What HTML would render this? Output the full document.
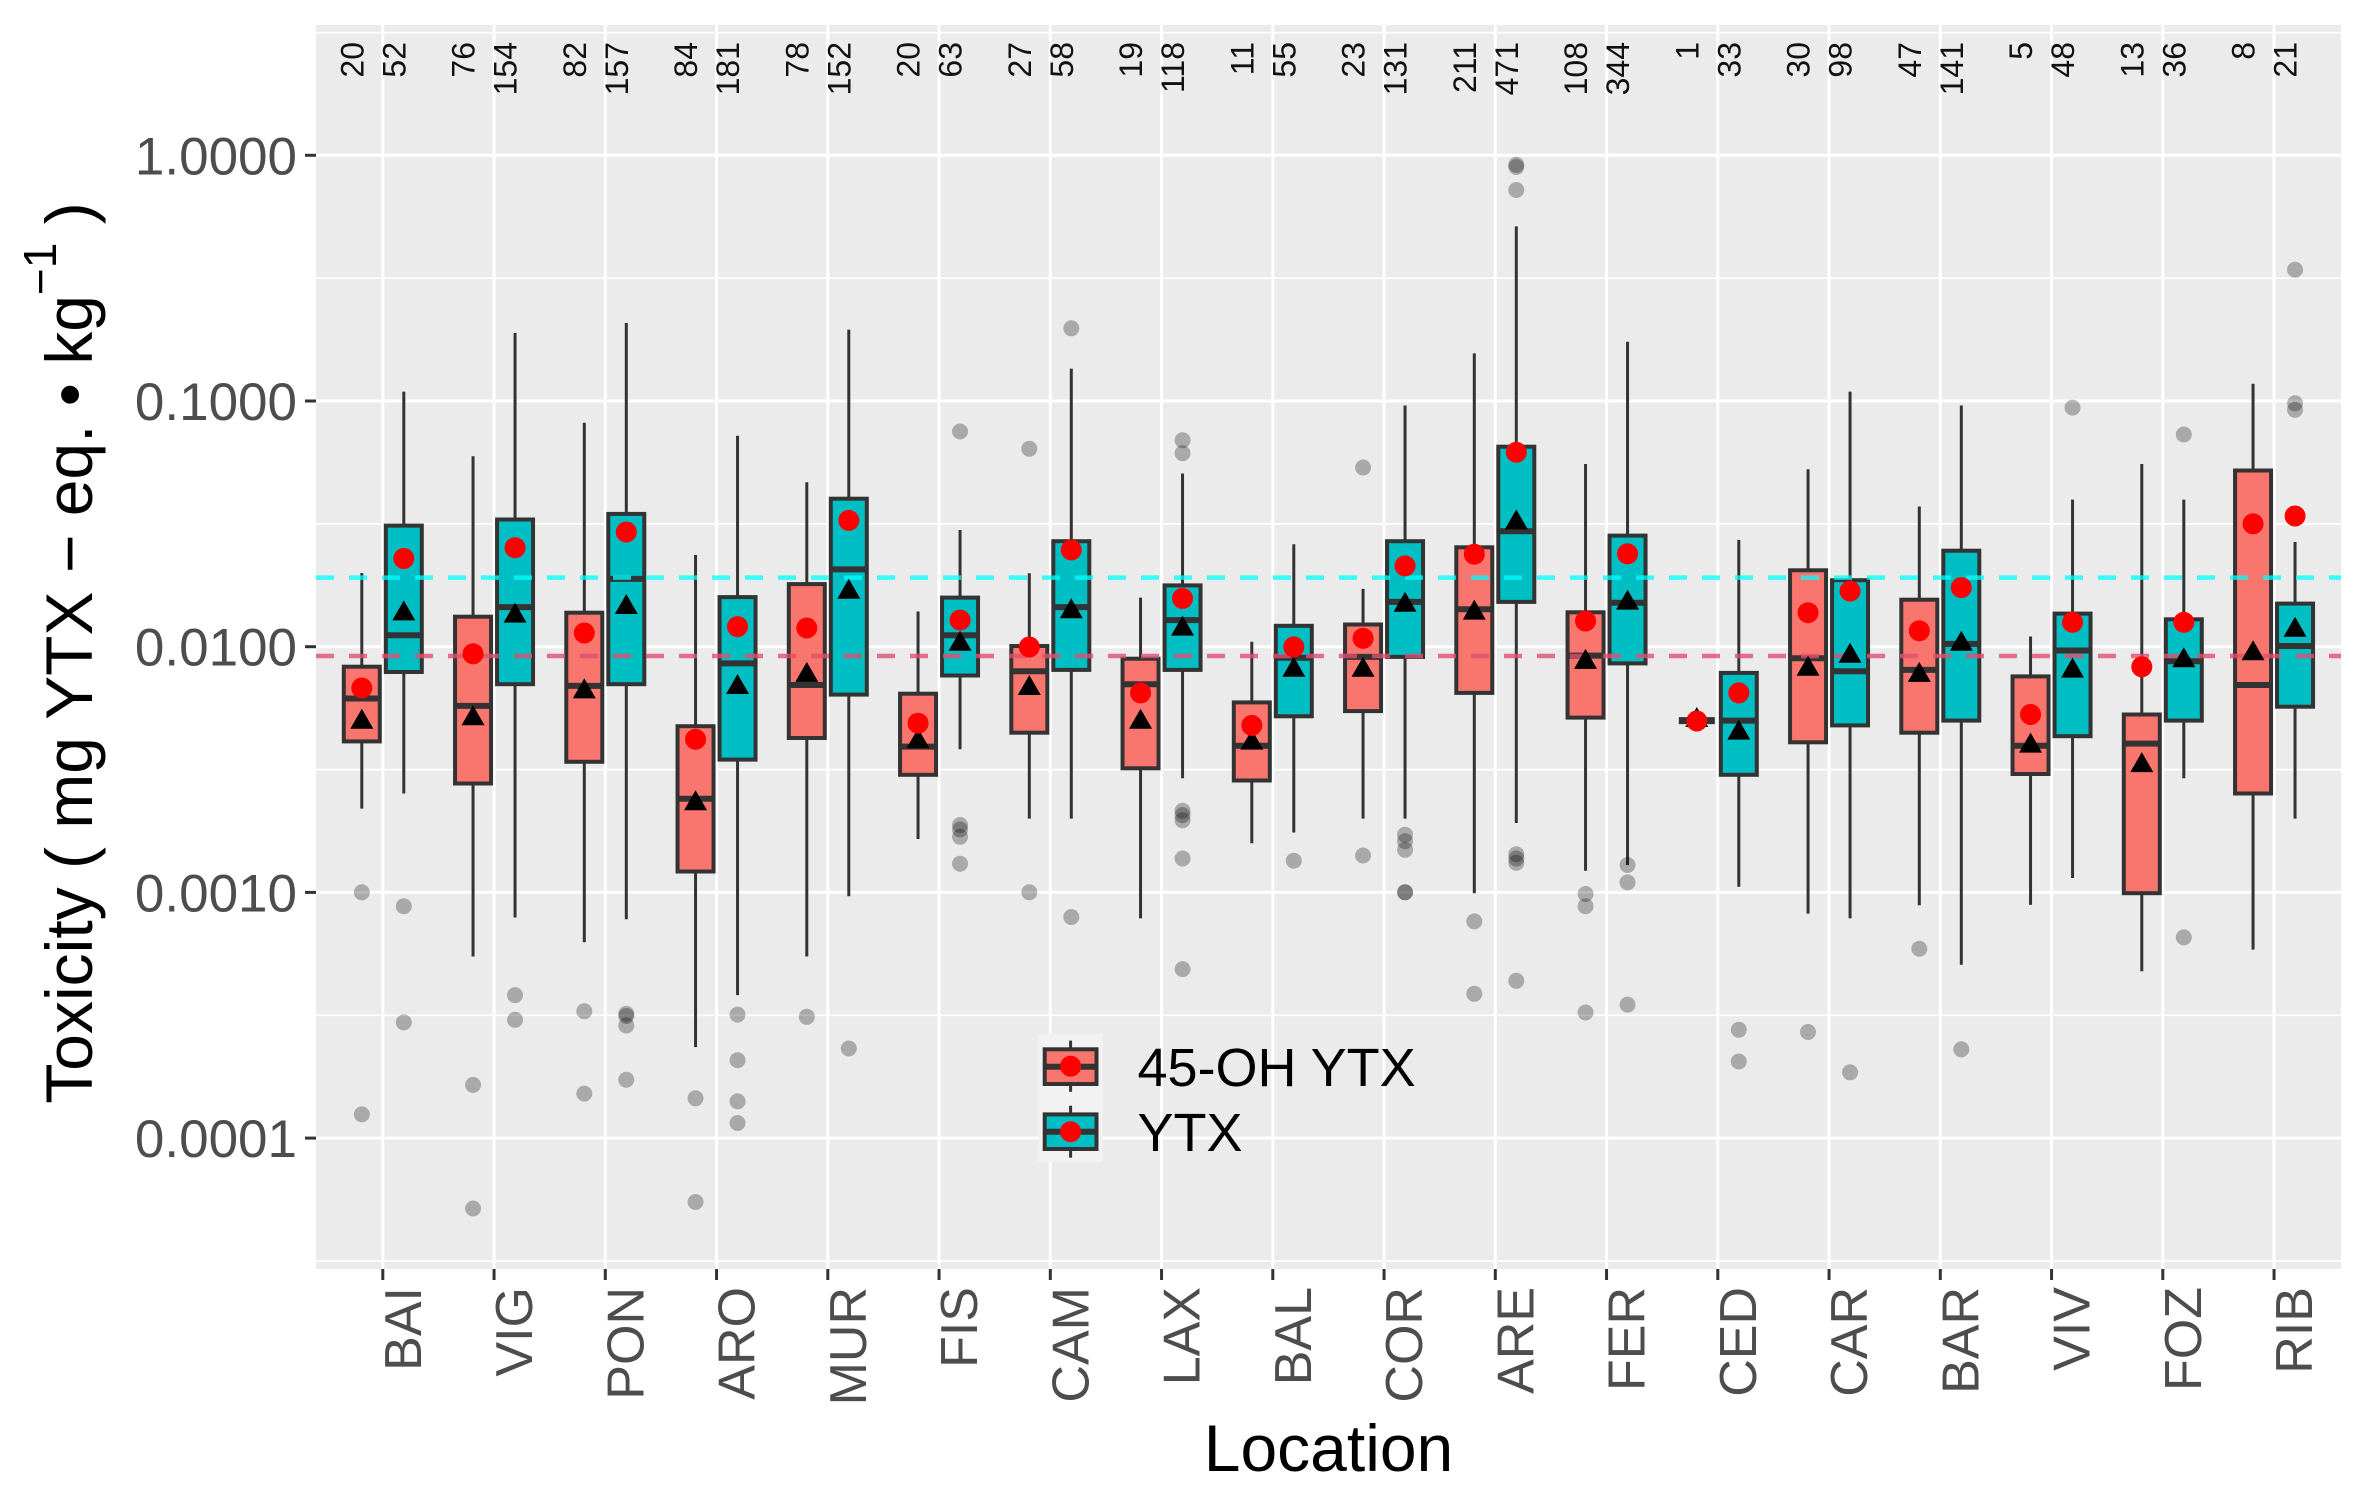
<!DOCTYPE html>
<html><head><meta charset="utf-8"><style>
html,body{margin:0;padding:0;background:#fff;overflow:hidden}
svg{display:block}
.w{stroke:#333;stroke-width:3}
.s{fill:#F8766D;stroke:#333;stroke-width:4}
.t{fill:#00BFC4;stroke:#333;stroke-width:4}
.m{stroke:#333;stroke-width:6}
.o{fill:#000;fill-opacity:0.28}
.r{fill:#FF0000}
.gM{stroke:#fff;stroke-width:3}
.gm{stroke:#fff;stroke-width:1.7}
.tk{stroke:#333;stroke-width:3}
.n{font-size:32px;fill:#111}
.xl{font-size:52px;fill:#4D4D4D}
.yl{font-size:53px;fill:#4D4D4D}
</style></head><body>
<svg width="2371" height="1501" viewBox="0 0 2371 1501" xmlns="http://www.w3.org/2000/svg" font-family="'Liberation Sans', Arial, sans-serif">
<defs><path id="tri" d="M0,-11 L11.5,9 L-11.5,9 Z" fill="#000"/></defs>
<rect width="2371" height="1501" fill="#fff"/>
<rect x="316" y="25" width="2025" height="1244" fill="#EBEBEB"/>
<!-- minor grid -->
<g class="gm">
<line x1="316" x2="2341" y1="32.7" y2="32.7"/><line x1="316" x2="2341" y1="278.2" y2="278.2"/><line x1="316" x2="2341" y1="523.9" y2="523.9"/><line x1="316" x2="2341" y1="769.6" y2="769.6"/><line x1="316" x2="2341" y1="1015.3" y2="1015.3"/><line x1="316" x2="2341" y1="1261" y2="1261"/>
</g>
<!-- major grid -->
<g class="gM">
<line x1="316" x2="2341" y1="155.3" y2="155.3"/><line x1="316" x2="2341" y1="401" y2="401"/><line x1="316" x2="2341" y1="646.7" y2="646.7"/><line x1="316" x2="2341" y1="892.4" y2="892.4"/><line x1="316" x2="2341" y1="1138.1" y2="1138.1"/>
<line x1="382.8" x2="382.8" y1="25" y2="1269"/><line x1="494.05" x2="494.05" y1="25" y2="1269"/><line x1="605.3" x2="605.3" y1="25" y2="1269"/><line x1="716.55" x2="716.55" y1="25" y2="1269"/><line x1="827.8" x2="827.8" y1="25" y2="1269"/><line x1="939.05" x2="939.05" y1="25" y2="1269"/><line x1="1050.3" x2="1050.3" y1="25" y2="1269"/><line x1="1161.55" x2="1161.55" y1="25" y2="1269"/><line x1="1272.8" x2="1272.8" y1="25" y2="1269"/><line x1="1384.05" x2="1384.05" y1="25" y2="1269"/><line x1="1495.3" x2="1495.3" y1="25" y2="1269"/><line x1="1606.55" x2="1606.55" y1="25" y2="1269"/><line x1="1717.8" x2="1717.8" y1="25" y2="1269"/><line x1="1829.05" x2="1829.05" y1="25" y2="1269"/><line x1="1940.3" x2="1940.3" y1="25" y2="1269"/><line x1="2051.55" x2="2051.55" y1="25" y2="1269"/><line x1="2162.8" x2="2162.8" y1="25" y2="1269"/><line x1="2274.05" x2="2274.05" y1="25" y2="1269"/>
</g>

<!-- boxes -->
<g>
<!-- BAI -->
<line class="w" x1="361.8" x2="361.8" y1="573" y2="808.6"/><rect class="s" x="343.8" y="666.7" width="36" height="74.7"/><line class="m" x1="343.8" x2="379.8" y1="698.5" y2="698.5"/>
<circle class="o" cx="361.8" cy="892.3" r="8"/><circle class="o" cx="361.8" cy="1114.4" r="8"/>
<line class="w" x1="403.8" x2="403.8" y1="391.6" y2="793.5"/><rect class="t" x="385.8" y="525.6" width="36" height="146.4"/><line class="m" x1="385.8" x2="421.8" y1="635.3" y2="635.3"/>
<circle class="o" cx="403.8" cy="906.2" r="8"/><circle class="o" cx="403.8" cy="1022.4" r="8"/>
<!-- VIG -->
<line class="w" x1="473.05" x2="473.05" y1="456.2" y2="956.5"/><rect class="s" x="455.05" y="616.7" width="36" height="166.8"/><line class="m" x1="455.05" x2="491.05" y1="705.9" y2="705.9"/>
<circle class="o" cx="473.05" cy="1084.9" r="8"/><circle class="o" cx="473.05" cy="1208.5" r="8"/>
<line class="w" x1="515.05" x2="515.05" y1="333" y2="917.5"/><rect class="t" x="497.05" y="519.5" width="36" height="164.7"/><line class="m" x1="497.05" x2="533.05" y1="607.1" y2="607.1"/>
<circle class="o" cx="515.05" cy="995.1" r="8"/><circle class="o" cx="515.05" cy="1019.8" r="8"/>
<!-- PON -->
<line class="w" x1="584.3" x2="584.3" y1="422.8" y2="942.2"/><rect class="s" x="566.3" y="612.7" width="36" height="149.1"/><line class="m" x1="566.3" x2="602.3" y1="685.9" y2="685.9"/>
<circle class="o" cx="584.3" cy="1011.2" r="8"/><circle class="o" cx="584.3" cy="1093.6" r="8"/>
<line class="w" x1="626.3" x2="626.3" y1="323" y2="919.2"/><rect class="t" x="608.3" y="513.9" width="36" height="170.3"/><line class="m" x1="608.3" x2="644.3" y1="578.9" y2="578.9"/>
<circle class="o" cx="626.3" cy="1013.8" r="8"/><circle class="o" cx="626.3" cy="1016" r="8"/><circle class="o" cx="626.3" cy="1025.5" r="8"/><circle class="o" cx="626.3" cy="1079.7" r="8"/>
<!-- ARO -->
<line class="w" x1="695.55" x2="695.55" y1="555" y2="1047.1"/><rect class="s" x="677.55" y="726.2" width="36" height="145.3"/><line class="m" x1="677.55" x2="713.55" y1="798.7" y2="798.7"/>
<circle class="o" cx="695.55" cy="1098.3" r="8"/><circle class="o" cx="695.55" cy="1202" r="8"/>
<line class="w" x1="737.55" x2="737.55" y1="435.8" y2="995.1"/><rect class="t" x="719.55" y="597.1" width="36" height="162.5"/><line class="m" x1="719.55" x2="755.55" y1="663.4" y2="663.4"/>
<circle class="o" cx="737.55" cy="1014.6" r="8"/><circle class="o" cx="737.55" cy="1060.2" r="8"/><circle class="o" cx="737.55" cy="1101.4" r="8"/><circle class="o" cx="737.55" cy="1123" r="8"/>
<!-- MUR -->
<line class="w" x1="806.8" x2="806.8" y1="482.2" y2="956.5"/><rect class="s" x="788.8" y="584.1" width="36" height="153.9"/><line class="m" x1="788.8" x2="824.8" y1="685" y2="685"/>
<circle class="o" cx="806.8" cy="1016.8" r="8"/>
<line class="w" x1="848.8" x2="848.8" y1="329.6" y2="896.2"/><rect class="t" x="830.8" y="498.7" width="36" height="195.9"/><line class="m" x1="830.8" x2="866.8" y1="569.4" y2="569.4"/>
<circle class="o" cx="848.8" cy="1048.5" r="8"/>
<!-- FIS -->
<line class="w" x1="918.05" x2="918.05" y1="611.5" y2="839"/><rect class="s" x="900.05" y="693.7" width="36" height="81.1"/><line class="m" x1="900.05" x2="936.05" y1="746.6" y2="746.6"/>
<line class="w" x1="960.05" x2="960.05" y1="530" y2="749.2"/><rect class="t" x="942.05" y="597.6" width="36" height="77.9"/><line class="m" x1="942.05" x2="978.05" y1="635.3" y2="635.3"/>
<circle class="o" cx="960.05" cy="431.5" r="8"/><circle class="o" cx="960.05" cy="825" r="8"/><circle class="o" cx="960.05" cy="829.5" r="8"/><circle class="o" cx="960.05" cy="836.8" r="8"/><circle class="o" cx="960.05" cy="863.7" r="8"/>
<!-- CAM -->
<line class="w" x1="1029.3" x2="1029.3" y1="573.3" y2="818.6"/><rect class="s" x="1011.3" y="646" width="36" height="86.7"/><line class="m" x1="1011.3" x2="1047.3" y1="671.2" y2="671.2"/>
<circle class="o" cx="1029.3" cy="448.8" r="8"/><circle class="o" cx="1029.3" cy="892.3" r="8"/>
<line class="w" x1="1071.3" x2="1071.3" y1="368.6" y2="818.6"/><rect class="t" x="1053.3" y="541.2" width="36" height="128.7"/><line class="m" x1="1053.3" x2="1089.3" y1="607.1" y2="607.1"/>
<circle class="o" cx="1071.3" cy="328.3" r="8"/><circle class="o" cx="1071.3" cy="917" r="8"/>
<!-- LAX -->
<line class="w" x1="1140.55" x2="1140.55" y1="597.6" y2="918.4"/><rect class="s" x="1122.55" y="658.7" width="36" height="109.6"/><line class="m" x1="1122.55" x2="1158.55" y1="684.2" y2="684.2"/>
<line class="w" x1="1182.55" x2="1182.55" y1="473.5" y2="778.3"/><rect class="t" x="1164.55" y="585.4" width="36" height="84.5"/><line class="m" x1="1164.55" x2="1200.55" y1="620.1" y2="620.1"/>
<circle class="o" cx="1182.55" cy="440.2" r="8"/><circle class="o" cx="1182.55" cy="453.2" r="8"/><circle class="o" cx="1182.55" cy="810.8" r="8"/><circle class="o" cx="1182.55" cy="815.1" r="8"/><circle class="o" cx="1182.55" cy="820.3" r="8"/><circle class="o" cx="1182.55" cy="858.5" r="8"/><circle class="o" cx="1182.55" cy="969.1" r="8"/>
<!-- BAL -->
<line class="w" x1="1251.8" x2="1251.8" y1="641.7" y2="843.3"/><rect class="s" x="1233.8" y="702.4" width="36" height="78.1"/><line class="m" x1="1233.8" x2="1269.8" y1="745.8" y2="745.8"/>
<line class="w" x1="1293.8" x2="1293.8" y1="544.2" y2="832.5"/><rect class="t" x="1275.8" y="625.8" width="36" height="90.5"/><line class="m" x1="1275.8" x2="1311.8" y1="657.7" y2="657.7"/>
<circle class="o" cx="1293.8" cy="860.7" r="8"/>
<!-- COR -->
<line class="w" x1="1363.05" x2="1363.05" y1="588.9" y2="818.6"/><rect class="s" x="1345.05" y="624.5" width="36" height="86.6"/><line class="m" x1="1345.05" x2="1381.05" y1="656.9" y2="656.9"/>
<circle class="o" cx="1363.05" cy="467.5" r="8"/><circle class="o" cx="1363.05" cy="855.5" r="8"/>
<line class="w" x1="1405.05" x2="1405.05" y1="405.5" y2="818.6"/><rect class="t" x="1387.05" y="541.2" width="36" height="115.7"/><line class="m" x1="1387.05" x2="1423.05" y1="601.9" y2="601.9"/>
<circle class="o" cx="1405.05" cy="834.7" r="8"/><circle class="o" cx="1405.05" cy="841.2" r="8"/><circle class="o" cx="1405.05" cy="849.8" r="8"/><circle class="o" cx="1405.05" cy="892.3" r="8"/><circle class="o" cx="1405.05" cy="892.3" r="8"/>
<!-- ARE -->
<line class="w" x1="1474.3" x2="1474.3" y1="353.4" y2="893.2"/><rect class="s" x="1456.3" y="547.3" width="36" height="145.6"/><line class="m" x1="1456.3" x2="1492.3" y1="609.3" y2="609.3"/>
<circle class="o" cx="1474.3" cy="921.4" r="8"/><circle class="o" cx="1474.3" cy="993.8" r="8"/>
<line class="w" x1="1516.3" x2="1516.3" y1="226.4" y2="823"/><rect class="t" x="1498.3" y="446.7" width="36" height="155.2"/><line class="m" x1="1498.3" x2="1534.3" y1="531.2" y2="531.2"/>
<circle class="o" cx="1516.3" cy="164.8" r="8"/><circle class="o" cx="1516.3" cy="167" r="8"/><circle class="o" cx="1516.3" cy="190" r="8"/><circle class="o" cx="1516.3" cy="854.2" r="8"/><circle class="o" cx="1516.3" cy="858.5" r="8"/><circle class="o" cx="1516.3" cy="862.8" r="8"/><circle class="o" cx="1516.3" cy="980.8" r="8"/>
<!-- FER -->
<line class="w" x1="1585.55" x2="1585.55" y1="464" y2="870.7"/><rect class="s" x="1567.55" y="612.3" width="36" height="105.3"/><line class="m" x1="1567.55" x2="1603.55" y1="655.6" y2="655.6"/>
<circle class="o" cx="1585.55" cy="894" r="8"/><circle class="o" cx="1585.55" cy="906.2" r="8"/><circle class="o" cx="1585.55" cy="1012.5" r="8"/>
<line class="w" x1="1627.55" x2="1627.55" y1="341.7" y2="865"/><rect class="t" x="1609.55" y="535.6" width="36" height="127.8"/><line class="m" x1="1609.55" x2="1645.55" y1="602.8" y2="602.8"/>
<circle class="o" cx="1627.55" cy="865" r="8"/><circle class="o" cx="1627.55" cy="882.4" r="8"/><circle class="o" cx="1627.55" cy="1004.6" r="8"/>
<!-- CED -->
<line x1="1678.8" x2="1714.8" y1="720.6" y2="720.6" stroke="#333" stroke-width="7"/>
<line class="w" x1="1738.8" x2="1738.8" y1="539.9" y2="886.7"/><rect class="t" x="1720.8" y="672.9" width="36" height="101.9"/><line class="m" x1="1720.8" x2="1756.8" y1="720.6" y2="720.6"/>
<circle class="o" cx="1738.8" cy="1029.8" r="8"/><circle class="o" cx="1738.8" cy="1061.5" r="8"/>
<!-- CAR -->
<line class="w" x1="1808.05" x2="1808.05" y1="469.2" y2="913.6"/><rect class="s" x="1790.05" y="570.3" width="36" height="172"/><line class="m" x1="1790.05" x2="1826.05" y1="658.2" y2="658.2"/>
<circle class="o" cx="1808.05" cy="1032" r="8"/>
<line class="w" x1="1850.05" x2="1850.05" y1="391.6" y2="918.4"/><rect class="t" x="1832.05" y="580.2" width="36" height="145.2"/><line class="m" x1="1832.05" x2="1868.05" y1="671.2" y2="671.2"/>
<circle class="o" cx="1850.05" cy="1072.3" r="8"/>
<!-- BAR -->
<line class="w" x1="1919.3" x2="1919.3" y1="506.5" y2="905.3"/><rect class="s" x="1901.3" y="599.7" width="36" height="133"/><line class="m" x1="1901.3" x2="1937.3" y1="669.9" y2="669.9"/>
<circle class="o" cx="1919.3" cy="948.7" r="8"/>
<line class="w" x1="1961.3" x2="1961.3" y1="405.5" y2="964.8"/><rect class="t" x="1943.3" y="550.7" width="36" height="169.9"/><line class="m" x1="1943.3" x2="1979.3" y1="643.9" y2="643.9"/>
<circle class="o" cx="1961.3" cy="1049.3" r="8"/>
<!-- VIV -->
<line class="w" x1="2030.55" x2="2030.55" y1="636.5" y2="904.9"/><rect class="s" x="2012.55" y="676.4" width="36" height="97.6"/><line class="m" x1="2012.55" x2="2048.55" y1="745.8" y2="745.8"/>
<line class="w" x1="2072.55" x2="2072.55" y1="499.6" y2="878"/><rect class="t" x="2054.55" y="613.6" width="36" height="122.6"/><line class="m" x1="2054.55" x2="2090.55" y1="650.5" y2="650.5"/>
<circle class="o" cx="2072.55" cy="407.6" r="8"/>
<!-- FOZ -->
<line class="w" x1="2141.8" x2="2141.8" y1="464" y2="971.3"/><rect class="s" x="2123.8" y="714.5" width="36" height="178.7"/><line class="m" x1="2123.8" x2="2159.8" y1="743.6" y2="743.6"/>
<line class="w" x1="2183.8" x2="2183.8" y1="499.6" y2="778.3"/><rect class="t" x="2165.8" y="619.3" width="36" height="101.3"/><line class="m" x1="2165.8" x2="2201.8" y1="661.2" y2="661.2"/>
<circle class="o" cx="2183.8" cy="434.5" r="8"/><circle class="o" cx="2183.8" cy="937.4" r="8"/>
<!-- RIB -->
<line class="w" x1="2253.05" x2="2253.05" y1="383.8" y2="949.6"/><rect class="s" x="2235.05" y="470.5" width="36" height="323"/><line class="m" x1="2235.05" x2="2271.05" y1="685" y2="685"/>
<line class="w" x1="2295.05" x2="2295.05" y1="542" y2="818.6"/><rect class="t" x="2277.05" y="603.6" width="36" height="103.1"/><line class="m" x1="2277.05" x2="2313.05" y1="646" y2="646"/>
<circle class="o" cx="2295.05" cy="269.7" r="8"/><circle class="o" cx="2295.05" cy="403.3" r="8"/><circle class="o" cx="2295.05" cy="409.8" r="8"/>
</g>

<!-- dashed reference lines -->
<line x1="316" x2="2341" y1="577.6" y2="577.6" stroke="#00FFFF" stroke-opacity="0.75" stroke-width="4.5" stroke-dasharray="18 15"/>
<line x1="316" x2="2341" y1="656" y2="656" stroke="#E0506E" stroke-opacity="0.8" stroke-width="4.5" stroke-dasharray="18 15"/>

<!-- triangles -->
<g>
<use href="#tri" x="361.8" y="719.7"/><use href="#tri" x="403.8" y="611.4"/>
<use href="#tri" x="473.05" y="716.3"/><use href="#tri" x="515.05" y="613.6"/>
<use href="#tri" x="584.3" y="689.4"/><use href="#tri" x="626.3" y="605"/>
<use href="#tri" x="695.55" y="801.3"/><use href="#tri" x="737.55" y="685"/>
<use href="#tri" x="806.8" y="672.9"/><use href="#tri" x="848.8" y="589.8"/>
<use href="#tri" x="918.05" y="739.3"/><use href="#tri" x="960.05" y="641.8"/>
<use href="#tri" x="1029.3" y="686"/><use href="#tri" x="1071.3" y="609.3"/>
<use href="#tri" x="1140.55" y="719.7"/><use href="#tri" x="1182.55" y="626.6"/>
<use href="#tri" x="1251.8" y="740.6"/><use href="#tri" x="1293.8" y="667.7"/>
<use href="#tri" x="1363.05" y="667.7"/><use href="#tri" x="1405.05" y="602.8"/>
<use href="#tri" x="1474.3" y="610.6"/><use href="#tri" x="1516.3" y="520.4"/>
<use href="#tri" x="1585.55" y="659.9"/><use href="#tri" x="1627.55" y="600.6"/>
<use href="#tri" x="1696.8" y="718"/><use href="#tri" x="1738.8" y="730.6"/>
<use href="#tri" x="1808.05" y="666.8"/><use href="#tri" x="1850.05" y="653.8"/>
<use href="#tri" x="1919.3" y="672.9"/><use href="#tri" x="1961.3" y="641.7"/>
<use href="#tri" x="2030.55" y="743.6"/><use href="#tri" x="2072.55" y="668.6"/>
<use href="#tri" x="2141.8" y="763.1"/><use href="#tri" x="2183.8" y="658.2"/>
<use href="#tri" x="2253.05" y="651.2"/><use href="#tri" x="2295.05" y="627.8"/>
</g>
<!-- red mean dots -->
<g class="r">
<circle cx="361.8" cy="688" r="10.5"/><circle cx="403.8" cy="558.5" r="10.5"/>
<circle cx="473.05" cy="653.8" r="10.5"/><circle cx="515.05" cy="547.7" r="10.5"/>
<circle cx="584.3" cy="633" r="10.5"/><circle cx="626.3" cy="532" r="10.5"/>
<circle cx="695.55" cy="739.3" r="10.5"/><circle cx="737.55" cy="626.6" r="10.5"/>
<circle cx="806.8" cy="628" r="10.5"/><circle cx="848.8" cy="520.4" r="10.5"/>
<circle cx="918.05" cy="723.2" r="10.5"/><circle cx="960.05" cy="620.1" r="10.5"/>
<circle cx="1029.3" cy="647" r="10.5"/><circle cx="1071.3" cy="549.9" r="10.5"/>
<circle cx="1140.55" cy="692.9" r="10.5"/><circle cx="1182.55" cy="598.4" r="10.5"/>
<circle cx="1251.8" cy="725.4" r="10.5"/><circle cx="1293.8" cy="646.9" r="10.5"/>
<circle cx="1363.05" cy="638.3" r="10.5"/><circle cx="1405.05" cy="565.9" r="10.5"/>
<circle cx="1474.3" cy="554.2" r="10.5"/><circle cx="1516.3" cy="452.3" r="10.5"/>
<circle cx="1585.55" cy="621" r="10.5"/><circle cx="1627.55" cy="553.8" r="10.5"/>
<circle cx="1696.8" cy="721" r="10.5"/><circle cx="1738.8" cy="692.9" r="10.5"/>
<circle cx="1808.05" cy="612.7" r="10.5"/><circle cx="1850.05" cy="591.1" r="10.5"/>
<circle cx="1919.3" cy="630.8" r="10.5"/><circle cx="1961.3" cy="587.6" r="10.5"/>
<circle cx="2030.55" cy="714.5" r="10.5"/><circle cx="2072.55" cy="622.3" r="10.5"/>
<circle cx="2141.8" cy="666.8" r="10.5"/><circle cx="2183.8" cy="622.3" r="10.5"/>
<circle cx="2253.05" cy="523.8" r="10.5"/><circle cx="2295.05" cy="516" r="10.5"/>
</g>

<!-- n labels -->
<g class="n" text-anchor="end">
<text transform="translate(363.3,42) rotate(-90)">20</text><text transform="translate(405.3,42) rotate(-90)">52</text>
<text transform="translate(474.55,42) rotate(-90)">76</text><text transform="translate(516.55,42) rotate(-90)">154</text>
<text transform="translate(585.8,42) rotate(-90)">82</text><text transform="translate(627.8,42) rotate(-90)">157</text>
<text transform="translate(697.05,42) rotate(-90)">84</text><text transform="translate(739.05,42) rotate(-90)">181</text>
<text transform="translate(808.3,42) rotate(-90)">78</text><text transform="translate(850.3,42) rotate(-90)">152</text>
<text transform="translate(919.55,42) rotate(-90)">20</text><text transform="translate(961.55,42) rotate(-90)">63</text>
<text transform="translate(1030.8,42) rotate(-90)">27</text><text transform="translate(1072.8,42) rotate(-90)">58</text>
<text transform="translate(1142.05,42) rotate(-90)">19</text><text transform="translate(1184.05,42) rotate(-90)">118</text>
<text transform="translate(1253.3,42) rotate(-90)">11</text><text transform="translate(1295.3,42) rotate(-90)">55</text>
<text transform="translate(1364.55,42) rotate(-90)">23</text><text transform="translate(1406.55,42) rotate(-90)">131</text>
<text transform="translate(1475.8,42) rotate(-90)">211</text><text transform="translate(1517.8,42) rotate(-90)">471</text>
<text transform="translate(1587.05,42) rotate(-90)">108</text><text transform="translate(1629.05,42) rotate(-90)">344</text>
<text transform="translate(1698.3,42) rotate(-90)">1</text><text transform="translate(1740.3,42) rotate(-90)">33</text>
<text transform="translate(1809.55,42) rotate(-90)">30</text><text transform="translate(1851.55,42) rotate(-90)">98</text>
<text transform="translate(1920.8,42) rotate(-90)">47</text><text transform="translate(1962.8,42) rotate(-90)">141</text>
<text transform="translate(2032.05,42) rotate(-90)">5</text><text transform="translate(2074.05,42) rotate(-90)">48</text>
<text transform="translate(2143.3,42) rotate(-90)">13</text><text transform="translate(2185.3,42) rotate(-90)">36</text>
<text transform="translate(2254.55,42) rotate(-90)">8</text><text transform="translate(2296.55,42) rotate(-90)">21</text>
</g>

<!-- legend -->
<rect x="1038.6" y="1034" width="64" height="64" fill="#F2F2F2"/>
<rect x="1038.6" y="1098" width="64" height="64" fill="#F2F2F2"/>
<line class="w" x1="1070.6" x2="1070.6" y1="1040.6" y2="1091.8"/>
<rect class="s" x="1044.7" y="1049.3" width="51.8" height="34.7"/>
<line class="m" x1="1044.7" x2="1096.5" y1="1066.7" y2="1066.7"/>
<circle class="r" cx="1070.6" cy="1066.2" r="10.5"/>
<line class="w" x1="1070.6" x2="1070.6" y1="1105.7" y2="1157.7"/>
<rect class="t" x="1044.7" y="1114.4" width="51.8" height="34.6"/>
<line class="m" x1="1044.7" x2="1096.5" y1="1131.7" y2="1131.7"/>
<circle class="r" cx="1070.6" cy="1131.7" r="10.5"/>
<text x="1137.5" y="1086" font-size="54" fill="#000">45-OH YTX</text>
<text x="1137.5" y="1151" font-size="54" fill="#000">YTX</text>

<!-- axis ticks -->
<g class="tk">
<line x1="305" x2="316" y1="155.3" y2="155.3"/><line x1="305" x2="316" y1="401" y2="401"/><line x1="305" x2="316" y1="646.7" y2="646.7"/><line x1="305" x2="316" y1="892.4" y2="892.4"/><line x1="305" x2="316" y1="1138.1" y2="1138.1"/>
<line x1="382.8" x2="382.8" y1="1269" y2="1280"/><line x1="494.05" x2="494.05" y1="1269" y2="1280"/><line x1="605.3" x2="605.3" y1="1269" y2="1280"/><line x1="716.55" x2="716.55" y1="1269" y2="1280"/><line x1="827.8" x2="827.8" y1="1269" y2="1280"/><line x1="939.05" x2="939.05" y1="1269" y2="1280"/><line x1="1050.3" x2="1050.3" y1="1269" y2="1280"/><line x1="1161.55" x2="1161.55" y1="1269" y2="1280"/><line x1="1272.8" x2="1272.8" y1="1269" y2="1280"/><line x1="1384.05" x2="1384.05" y1="1269" y2="1280"/><line x1="1495.3" x2="1495.3" y1="1269" y2="1280"/><line x1="1606.55" x2="1606.55" y1="1269" y2="1280"/><line x1="1717.8" x2="1717.8" y1="1269" y2="1280"/><line x1="1829.05" x2="1829.05" y1="1269" y2="1280"/><line x1="1940.3" x2="1940.3" y1="1269" y2="1280"/><line x1="2051.55" x2="2051.55" y1="1269" y2="1280"/><line x1="2162.8" x2="2162.8" y1="1269" y2="1280"/><line x1="2274.05" x2="2274.05" y1="1269" y2="1280"/>
</g>

<!-- y tick labels -->
<g class="yl" text-anchor="end">
<text x="297" y="174.3">1.0000</text>
<text x="297" y="420">0.1000</text>
<text x="297" y="665.7">0.0100</text>
<text x="297" y="911.4">0.0010</text>
<text x="297" y="1157.1">0.0001</text>
</g>

<!-- x tick labels -->
<g class="xl" text-anchor="end">
<text transform="translate(420.8,1287) rotate(-90)">BAI</text>
<text transform="translate(532.05,1287) rotate(-90)">VIG</text>
<text transform="translate(643.3,1287) rotate(-90)">PON</text>
<text transform="translate(754.55,1287) rotate(-90)">ARO</text>
<text transform="translate(865.8,1287) rotate(-90)">MUR</text>
<text transform="translate(977.05,1287) rotate(-90)">FIS</text>
<text transform="translate(1088.3,1287) rotate(-90)">CAM</text>
<text transform="translate(1199.55,1287) rotate(-90)">LAX</text>
<text transform="translate(1310.8,1287) rotate(-90)">BAL</text>
<text transform="translate(1422.05,1287) rotate(-90)">COR</text>
<text transform="translate(1533.3,1287) rotate(-90)">ARE</text>
<text transform="translate(1644.55,1287) rotate(-90)">FER</text>
<text transform="translate(1755.8,1287) rotate(-90)">CED</text>
<text transform="translate(1867.05,1287) rotate(-90)">CAR</text>
<text transform="translate(1978.3,1287) rotate(-90)">BAR</text>
<text transform="translate(2089.55,1287) rotate(-90)">VIV</text>
<text transform="translate(2200.8,1287) rotate(-90)">FOZ</text>
<text transform="translate(2312.05,1287) rotate(-90)">RIB</text>
</g>

<!-- axis titles -->
<text x="1328.5" y="1471" font-size="66" text-anchor="middle" fill="#000">Location</text>
<text transform="translate(92,653) rotate(-90)" font-size="66" text-anchor="middle" fill="#000">Toxicity ( mg YTX − eq. • kg<tspan font-size="46" dy="-36">−1</tspan><tspan dy="36"> )</tspan></text>
</svg>
</body></html>
